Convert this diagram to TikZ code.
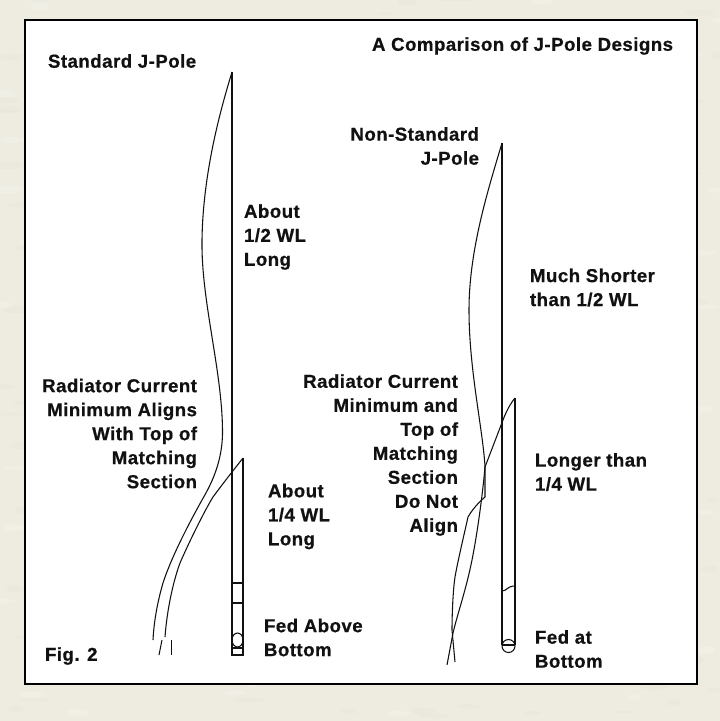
\documentclass[tikz,border=0pt]{standalone}
\usepackage{fontspec}
\setmainfont[LetterSpace=2.5,BoldFeatures={FakeBold=0.6}]{Liberation Sans}
\definecolor{paper}{HTML}{EEECE1}
\definecolor{paperlight}{HTML}{F5F4ED}
\definecolor{paperdark}{HTML}{E6E4D7}
\definecolor{ink}{HTML}{111111}
\tikzset{
  lbl/.style={inner sep=0pt,outer sep=0pt,text=ink,font=\fontsize{14}{18}\selectfont\bfseries},
  lblL/.style={lbl,anchor=west,align=left},
  lblR/.style={lbl,anchor=east,align=right},
  pole/.style={draw=ink,line width=1pt},
  curr/.style={draw=ink,line width=0.8pt}
}
\begin{document}
\begin{tikzpicture}[x=0.75pt,y=-0.75pt]
\useasboundingbox (0,0) rectangle (720,721);
\fill[paper] (0,0) rectangle (720,721);
\begin{scope}
\clip (0,0) rectangle (720,721);
\pgfmathsetseed{7}
\foreach \i in {1,...,420}{
  \pgfmathsetmacro{\px}{720*rnd}
  \pgfmathsetmacro{\py}{721*rnd}
  \pgfmathsetmacro{\rx}{4+9*rnd}
  \pgfmathsetmacro{\ry}{1+2*rnd}
  \pgfmathsetmacro{\pick}{rnd}
  \ifdim\pick pt<0.5pt
    \fill[paperlight,opacity=0.4] (\px,\py) ellipse (\rx pt and \ry pt);
  \else
    \fill[paperdark,opacity=0.35] (\px,\py) ellipse (\rx pt and \ry pt);
  \fi
}
\end{scope}
\draw[draw=black,line width=2.2pt,fill=white] (25,20) rectangle (697,684);
% left antenna
\draw[pole] (232,72) -- (232,655) -- (243,655) -- (243,458);
\draw[pole] (232,583) -- (243,583);
\draw[pole] (232,603) -- (243,603);
\draw[pole] (232,648) -- (243,648);
\draw[curr] (237.5,640) ellipse (5.5 and 7);
\draw[curr] (232,72) .. controls (222,105) and (203,170) .. (202,240)
  .. controls (201,300) and (222,370) .. (222.5,430)
  .. controls (223,460) and (212,483) .. (202,500)
  .. controls (192,518) and (172,555) .. (163,583)
  .. controls (158,600) and (154,620) .. (153,640);
\draw[curr] (243,458) .. controls (236,467) and (224,482) .. (213,497)
  .. controls (205,510) and (190,540) .. (180,563)
  .. controls (173,582) and (167,610) .. (165,637);
\draw[curr] (162,640) -- (159,655);
\draw[curr] (171.5,640) -- (171.5,655);
% right antenna
\draw[pole] (502,143) -- (502,645);
\draw[pole] (515,398) -- (515,645);
\draw[curr] (508.5,646) circle (6.5);
\draw[curr] (502,645) -- (515,645);
\draw[curr] (502,591) .. controls (507,591) and (507,586) .. (515,586);
\draw[curr] (502,143) .. controls (488,190) and (469,250) .. (469,310)
  .. controls (469,370) and (483,430) .. (485,467)
  -- (485,497) .. controls (478,503) and (472,510) .. (468,517)
  .. controls (464,535) and (458,560) .. (455,577)
  .. controls (453,590) and (452,615) .. (452,630) -- (455,662);
\draw[curr] (515,398) .. controls (510,404) and (506,412) .. (503,420)
  -- (485,467) .. controls (483,490) and (478,530) .. (472,560)
  .. controls (466,590) and (458,612) .. (453,633) -- (447,665);
% labels
\node[lblL] (title) at (372,46) {A Comparison of J-Pole Designs};
\node[lblL] (std) at (48,61) {Standard J-Pole};
\node[lblL] (half) at (244,237) {About\\1/2 WL\\Long};
\node[lblR] (nonstd) at (479,146) {Non-Standard\\J-Pole};
\node[lblL] (shorter) at (530,287.5) {Much Shorter\\than 1/2 WL};
\node[lblR] (radleft) at (197,433.5) {Radiator Current\\Minimum Aligns\\With Top of\\Matching\\Section};
\node[lblR] (radright) at (458,455) {Radiator Current\\Minimum and\\Top of\\Matching\\Section\\Do Not\\Align};
\node[lblL] (longer) at (535,472) {Longer than\\1/4 WL};
\node[lblL] (quarter) at (268,516.5) {About\\1/4 WL\\Long};
\node[lblL] (fedabove) at (264,637.5) {Fed Above\\Bottom};
\node[lblL] (fedat) at (535,649) {Fed at\\Bottom};
\node[lblL] (fig) at (45,656) {Fig. 2};
\end{tikzpicture}
\end{document}
